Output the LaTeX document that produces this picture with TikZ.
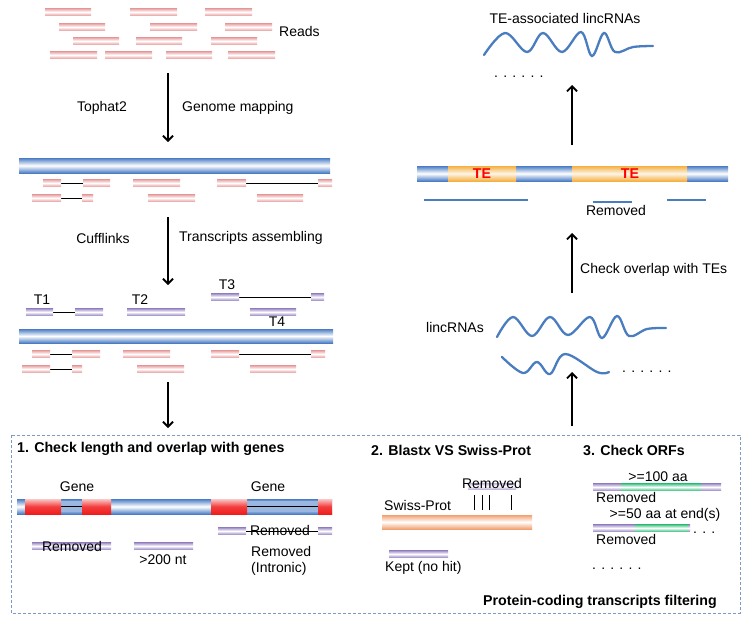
\documentclass[tikz,border=0pt]{standalone}
\usepackage{fontspec}
\setmainfont{Liberation Sans}
\usetikzlibrary{arrows.meta}
\definecolor{gblue}{HTML}{4A7CC4}
\definecolor{rpink}{HTML}{E8A0A0}
\definecolor{tpurple}{HTML}{9A88C4}
\definecolor{exred}{HTML}{F01C1C}
\definecolor{teor}{HTML}{F4B040}
\definecolor{spor}{HTML}{F2A070}
\definecolor{orfg}{HTML}{3CC080}
\definecolor{wblue}{HTML}{4A7DC0}
\definecolor{boxblue}{HTML}{7A9AC8}
\newcommand\mySeg[5]{\shade[top color=#1,bottom color=#1,middle color=white] (#2,#4-#5) rectangle (#3,#4+#5);}
\newcommand\myIntron[3]{\draw[intronline] (#1,#3) -- (#2,#3);}
\newcommand\myBar[4]{\shade[top color=gblue,bottom color=gblue,middle color=white] (#1,#3) rectangle (#2,#4);}
\begin{document}
\begin{tikzpicture}[x=1pt,y=-1pt,
  every node/.style={inner sep=0pt,font=\fontsize{14}{16.5}\selectfont},
  bold/.style={font=\fontsize{14.2}{16.5}\selectfont\bfseries},
  dotsnode/.style={anchor=base west,text height=2pt,text depth=0pt},
  intronline/.style={draw=black,line width=0.9pt},
  flowarrow/.style={draw=black,line width=1.8pt,-{Straight Barb[length=5pt,width=10pt,line width=1.8pt]}},
  wave/.style={draw=wblue,line width=2.3pt,line cap=round},
  teline/.style={draw=wblue,line width=2pt},
  filterbox/.style={draw=boxblue,line width=0.7pt,dash pattern=on 3pt off 2pt}]
\useasboundingbox (0,0) rectangle (751,627);

% ---------- reads ----------
\foreach \a/\b/\y in {45/91/12,130/177/12,205/252/12,
                      59/105/27,150/197/27,225/272/27,
                      73/119/41,136/182/41,211/257/41,
                      50/97/55,105/152/55,166/212/55,228/275/55}
  {\mySeg{rpink}{\a}{\b}{\y}{3.6}}
\node[anchor=west] (reads) at (279,31) {Reads};

\coordinate (a1s) at (168,73);
\coordinate (a1e) at (168,142);
\draw[flowarrow] (a1s) -- (a1e);
\node (tophat) at (102,108) {Tophat2};
\node[anchor=west] (gmap) at (182,108) {Genome mapping};

% ---------- genome 1 ----------
\myBar{19}{330}{158}{173}
\myIntron{61}{83}{183}
\myIntron{246}{318}{183}
\myIntron{61}{82}{198}
\foreach \a/\b/\y in {43/61/183,83/110/183,133/180/183,217/246/183,318/332/183,
                      32/61/198,82/93/198,148/195/198,257/303/198}
  {\mySeg{rpink}{\a}{\b}{\y}{3.6}}

\coordinate (a2s) at (168,217);
\coordinate (a2e) at (168,285);
\draw[flowarrow] (a2s) -- (a2e);
\node (cuff) at (103,238) {Cufflinks};
\node[anchor=west] (tassm) at (179,238) {Transcripts assembling};

% ---------- transcripts ----------
\node (t1) at (42,300) {T1};
\node (t2) at (140,300) {T2};
\node (t3) at (227,285) {T3};
\node (t4) at (277,322) {T4};
\myIntron{53}{75}{312}
\myIntron{239}{311}{297}
\foreach \a/\b/\y in {26/53/312,75/103/312,127/185/312,250/296/312,211/239/297,311/324/297}
  {\mySeg{tpurple}{\a}{\b}{\y}{3.6}}
\myBar{19}{333}{329}{343}
\myIntron{50}{72}{354}
\myIntron{239}{311}{354}
\myIntron{50}{72}{369}
\foreach \a/\b/\y in {32/50/354,72/100/354,123/170/354,211/239/354,311/325/354,
                      22/50/369,72/82/369,137/184/369,250/296/369}
  {\mySeg{rpink}{\a}{\b}{\y}{3.6}}

\coordinate (a3s) at (168,382);
\coordinate (a3e) at (168,428);
\draw[flowarrow] (a3s) -- (a3e);

% ---------- filtering box ----------
\draw[filterbox] (11,435) rectangle (740,613);
\node[bold,anchor=west] (h1) at (17,449) {1. Check length and overlap with genes};
\node[bold,anchor=west] (h2) at (371,450) {2. Blastx VS Swiss-Prot};
\node[bold,anchor=west] (h3) at (583,450) {3. Check ORFs};
\node[bold] (pcf) at (600,602) {Protein-coding transcripts filtering};

% section 1
\node (gene1) at (77,487) {Gene};
\node (gene2) at (268,487) {Gene};
\myBar{17}{332}{499}{514}
\fill[gblue!55!white] (61,501) rectangle (82,512);
\fill[gblue!55!white] (247,501) rectangle (318,512);
\draw[line width=1.3pt] (61,506.5) -- (82,506.5);
\draw[line width=1.3pt] (247,506.5) -- (318,506.5);
\foreach \a/\b in {25/61,82/111,211/247,318/332}
  {\shade[top color=exred!25!white,bottom color=exred,middle color=exred!85!white] (\a,499) rectangle (\b,514);}

\mySeg{tpurple}{32}{111}{546}{3.6}
\node (rm1) at (72,546) {Removed};
\mySeg{tpurple}{134}{193}{546}{3.6}
\node (nt200) at (163,560) {>200 nt};
\mySeg{tpurple}{218}{246}{531}{3.6}
\mySeg{tpurple}{318}{332}{531}{3.6}
\draw[line width=0.9pt] (246,531) -- (318,531);
\node (rm2) at (280,530) {Removed};
\node[anchor=west,align=left] (rm3) at (251,561) {Removed\\(Intronic)};

% section 2
\mySeg{tpurple!60!white}{468}{516}{486}{3}
\node (rm4) at (492,483) {Removed};
\node[anchor=west] (sp) at (384,505) {Swiss-Prot};
\shade[top color=spor,bottom color=spor,middle color=white] (382,515) rectangle (532,529);
\foreach \x in {474,482,489,511} {\draw[line width=1pt] (\x,495) -- (\x,510);}
\mySeg{tpurple}{389}{448}{554}{3.6}
\node[anchor=west] (kept) at (385,568) {Kept (no hit)};

% section 3
\node (orf1) at (658,477) {>=100 aa};
\mySeg{tpurple}{593}{721}{487}{3.6}
\mySeg{orfg}{621}{701}{487}{3.6}
\node[anchor=west] (rm5) at (596,497) {Removed};
\node (orf2) at (665,515) {>=50 aa at end(s)};
\mySeg{tpurple}{593}{690}{528}{3.6}
\mySeg{orfg}{635}{688}{528}{3.6}
\node[dotsnode] (dots3) at (693,533.5) {. . .};
\node[anchor=west] (rm6) at (596,539) {Removed};
\node[dotsnode] (dots4) at (592,569) {. . . . . .};

% ---------- right column ----------
\coordinate (a4s) at (572,426);
\coordinate (a4e) at (572,372);
\draw[flowarrow] (a4s) -- (a4e);

\node (linc) at (455,327) {lincRNAs};
\draw[wave] plot[smooth,tension=0.6] coordinates {(497,337) (513,317) (532,336) (550,317) (568,335) (590,317) (602,338) (617,316) (629,336) (647,329) (666,328)};
\draw[wave] plot[smooth,tension=0.6] coordinates {(502,357) (523,373) (537,362) (550,374) (565,354) (597,372) (609,372)};
\node[dotsnode] (dots2) at (622,372) {. . . . . .};

\coordinate (a5s) at (572,293);
\coordinate (a5e) at (572,233);
\draw[flowarrow] (a5s) -- (a5e);
\node[anchor=west] (chk) at (580,270) {Check overlap with TEs};

\myBar{417}{728}{166}{181}
\shade[top color=teor,bottom color=teor,middle color=teor!12!white] (448,166) rectangle (516,181);
\shade[top color=teor,bottom color=teor,middle color=teor!12!white] (572,166) rectangle (687,181);
\node[bold,text=red] (te1) at (482,173.5) {TE};
\node[bold,text=red] (te2) at (630,173.5) {TE};
\draw[teline] (424,200) -- (528,200);
\draw[teline] (593,202) -- (632,202);
\draw[teline] (667,200) -- (706,200);
\node (rm7) at (616,210) {Removed};

\coordinate (a6s) at (572,145);
\coordinate (a6e) at (572,85);
\draw[flowarrow] (a6s) -- (a6e);

\draw[wave] plot[smooth,tension=0.6] coordinates {(484,55) (505,33) (527,52) (543,33) (562,52) (581,32) (592,56) (604,33) (615,52) (633,47) (653,46)};
\node[dotsnode] (dots1) at (494,77) {. . . . . .};
\node (teal) at (565,18) {TE-associated lincRNAs};
\end{tikzpicture}
\end{document}
